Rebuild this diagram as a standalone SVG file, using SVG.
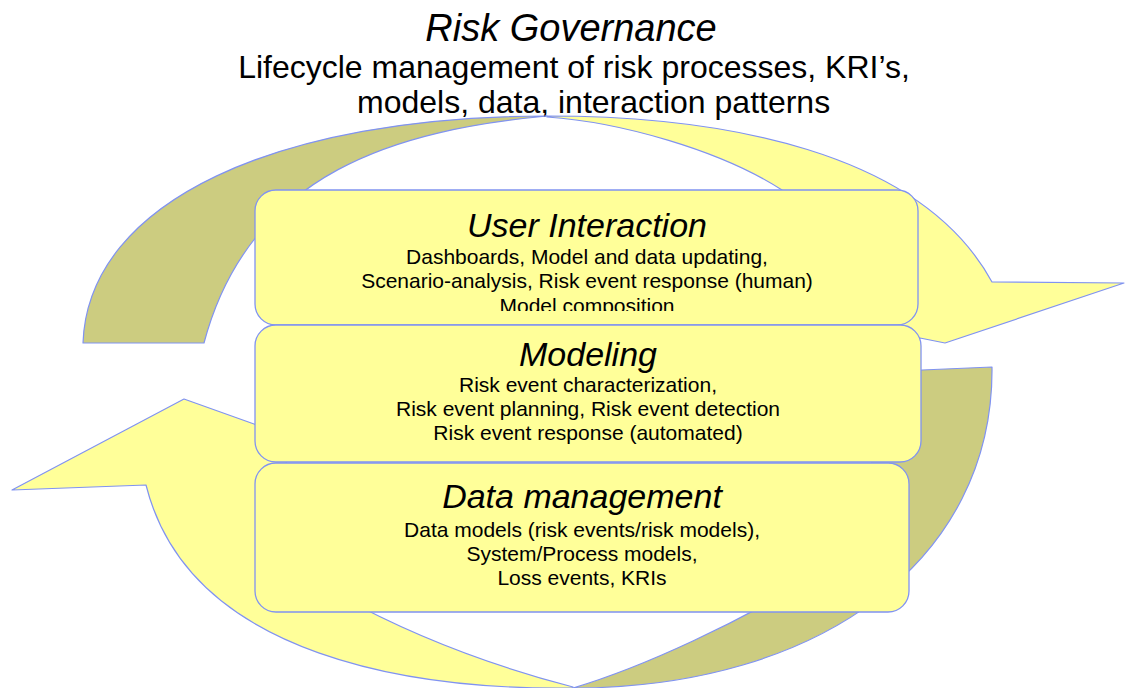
<svg xmlns="http://www.w3.org/2000/svg" width="1126" height="688" viewBox="0 0 1126 688">
<defs>
<style>
.yel{fill:#FFFF99;stroke:#8093F1;stroke-width:1.2;stroke-linejoin:round}
.olv{fill:#CCCC80;stroke:#8093F1;stroke-width:1.2;stroke-linejoin:round}
.box{fill:#FFFF99;stroke:#8093F1;stroke-width:1.3}
.t{font-family:"Liberation Sans",Arial,sans-serif;fill:#000;text-anchor:middle}
.h{font-style:italic;font-size:34px}
.b{font-size:21px}
</style>
<clipPath id="uiclip"><rect x="255" y="190" width="663" height="121"/></clipPath>
</defs>
<rect width="1126" height="688" fill="#fff"/>
<g id="title">
<text class="t" x="571" y="41" style="font-style:italic;font-size:38px">Risk Governance</text>
<text class="t" x="574" y="78" style="font-size:32px">Lifecycle management of risk processes, KRI’s,</text>
<text class="t" x="357" y="113" style="font-size:32px;text-anchor:start">models, data, interaction patterns</text>
</g>
<g id="connectors">
<path class="olv" d="M83,343 C88,200 280,116 547,116 C400,130 250,170 204,343 Z"/>
<path class="yel" d="M547,116 C720,116 920,150 992,282 L1124,283 L945,343 L920,338 L880,340 L870,300 L782,190 C720,150 620,122 547,117 Z"/>
<path class="olv" d="M992,367 C994,560 820,688 573,688 C650,665 740,620 800,585 L870,480 L880,380 L922,370 Z"/>
<path class="yel" d="M573,688 C420,690 190,660 146,485 L12,490 L184,399 L254,424 L270,430 L290,470 L300,560 L340,596 C420,640 500,668 573,687 Z"/>
</g>
<g id="user-interaction">
<rect class="box" x="255" y="190" width="663" height="135" rx="21"/>
<text class="t h" x="587" y="237">User Interaction</text>
<g clip-path="url(#uiclip)">
<text class="t b" x="587" y="264">Dashboards, Model and data updating,</text>
<text class="t b" x="587" y="288">Scenario-analysis, Risk event response (human)</text>
<text class="t b" x="587" y="313">Model composition</text>
</g>
</g>
<g id="modeling">
<rect class="box" x="255" y="325" width="666" height="137" rx="21"/>
<text class="t h" x="588" y="366">Modeling</text>
<text class="t b" x="588" y="392">Risk event characterization,</text>
<text class="t b" x="588" y="416">Risk event planning, Risk event detection</text>
<text class="t b" x="588" y="440">Risk event response (automated)</text>
</g>
<g id="data-management">
<rect class="box" x="255" y="463" width="654" height="149" rx="21"/>
<text class="t h" x="582" y="508">Data management</text>
<text class="t b" x="582" y="537">Data models (risk events/risk models),</text>
<text class="t b" x="582" y="561">System/Process models,</text>
<text class="t b" x="582" y="585">Loss events, KRIs</text>
</g>
</svg>
